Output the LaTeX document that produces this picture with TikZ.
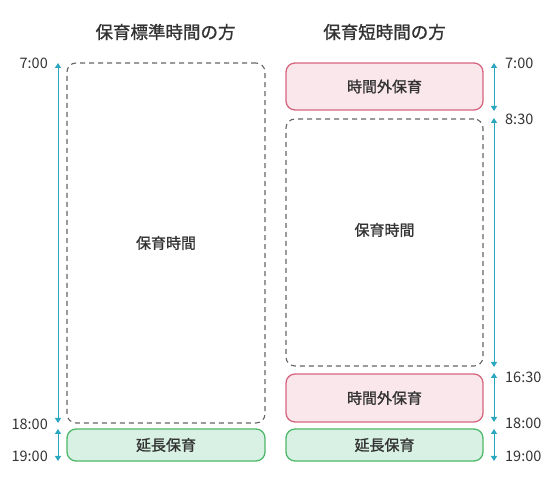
\documentclass[tikz,border=0pt]{standalone}
\usepackage{fontspec}
\setmainfont{Noto Sans CJK JP}
\newfontfamily\medfont{Noto Sans CJK JP}[FakeBold=1.2]
\usetikzlibrary{arrows.meta}
\definecolor{teal1}{HTML}{2BA6BF}
\definecolor{pinkfill}{HTML}{FAE7EB}
\definecolor{pinkline}{HTML}{D6657E}
\definecolor{greenfill}{HTML}{D8F1E4}
\definecolor{greenline}{HTML}{4DB868}
\definecolor{dashline}{HTML}{666666}
\definecolor{txt}{HTML}{333333}
\tikzset{
  dashbox/.style={draw=dashline, line width=1.1pt, dash pattern=on 5pt off 4pt, rounded corners=9pt, inner sep=0pt},
  pinkbox/.style={draw=pinkline, fill=pinkfill, line width=1.3pt, rounded corners=9pt, inner sep=0pt, font=\medfont\fontsize{15}{17}\selectfont, text=txt},
  greenbox/.style={draw=greenline, fill=greenfill, line width=1.3pt, rounded corners=9pt, inner sep=0pt, font=\medfont\fontsize{15}{17}\selectfont, text=txt},
  boxlabel/.style={font=\medfont\fontsize{15}{17}\selectfont, text=txt},
  title/.style={font=\medfont\fontsize{17.5}{19}\selectfont, text=txt},
  timelbl/.style={font=\fontsize{14.5}{16}\selectfont, text=txt, inner sep=0pt},
  span/.style={draw=teal1, line width=1pt, {Triangle[width=6pt,length=5pt]}-{Triangle[width=6pt,length=5pt]}},
}
\begin{document}
\begin{tikzpicture}[x=1pt,y=-1pt]
\useasboundingbox (0,0) rectangle (550,500);
% titles
\node[title] (t1) at (165.5,32) {保育標準時間の方};
\node[title] (t2) at (384.5,32) {保育短時間の方};
% left column
\node[dashbox, minimum width=198pt, minimum height=360pt] (lmain) at (166,243) {};
\node[boxlabel] (lmainlbl) at (166,243) {保育時間};
\node[greenbox, minimum width=198pt, minimum height=32pt] (lext) at (166,445) {延長保育};
% right column
\node[pinkbox, minimum width=197pt, minimum height=47pt] (rpre) at (384.5,86.5) {時間外保育};
\node[dashbox, minimum width=197pt, minimum height=247pt] (rmain) at (384.5,242.5) {};
\node[boxlabel] (rmainlbl) at (384.5,230) {保育時間};
\node[pinkbox, minimum width=197pt, minimum height=48pt] (rpost) at (384.5,398) {時間外保育};
\node[greenbox, minimum width=197pt, minimum height=32pt] (rext) at (384.5,445) {延長保育};
% arrow end points
\coordinate (la1) at (58,63);
\coordinate (la2) at (58,423);
\coordinate (la3) at (58,429);
\coordinate (la4) at (58,461);
\coordinate (ra1) at (494,63);
\coordinate (ra2) at (494,111);
\coordinate (ra3) at (494,118);
\coordinate (ra4) at (494,367);
\coordinate (ra5) at (494,373);
\coordinate (ra6) at (494,422);
\coordinate (ra7) at (494,429);
\coordinate (ra8) at (494,461);
\draw[span] (la1) -- (la2);
\draw[span] (la3) -- (la4);
\draw[span] (ra1) -- (ra2);
\draw[span] (ra3) -- (ra4);
\draw[span] (ra5) -- (ra6);
\draw[span] (ra7) -- (ra8);
% time labels
\node[timelbl, anchor=east] (l700) at (48,63) {7:00};
\node[timelbl, anchor=east] (l1800) at (48,424) {18:00};
\node[timelbl, anchor=east] (l1900) at (48,456) {19:00};
\node[timelbl, anchor=west] (r700) at (505,63) {7:00};
\node[timelbl, anchor=west] (r830) at (505,119) {8:30};
\node[timelbl, anchor=west] (r1630) at (505,377) {16:30};
\node[timelbl, anchor=west] (r1800) at (505,423) {18:00};
\node[timelbl, anchor=west] (r1900) at (505,456) {19:00};
\end{tikzpicture}
\end{document}
